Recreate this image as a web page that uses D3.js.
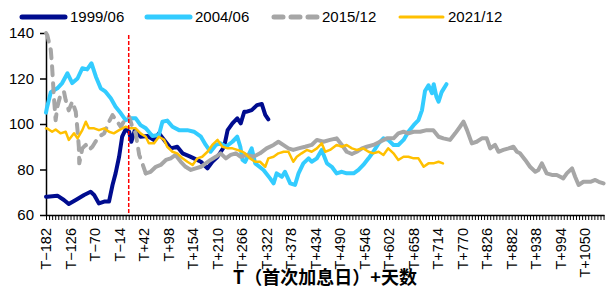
<!DOCTYPE html>
<html lang="zh">
<head>
<meta charset="UTF-8">
<title>加息后走势</title>
<style>
  body { margin: 0; padding: 0; background: #fff; }
  svg { display: block; font-family: "Liberation Sans", Arial, sans-serif; }
</style>
</head>
<body>
<svg id="chart" width="606" height="288"></svg>
<script src="https://d3js.org/d3.v7.min.js"></script>
<script>
// [day relative to T, value]
var s1999 = [[-182,68],[-179,68],[-156,68.5],[-141,66.6],[-130,64.8],[-114,66.6],[-95,68.8],[-80,70.2],[-72,68.8],[-61,65.1],[-49,65.9],[-38,65.9],[-30,73.2],[-23,78.3],[-15,85.6],[-8,94.4],[0,97.6],[8,96.6],[13,92.2],[21,97.3],[34,94.4],[50,94.7],[65,93],[76,95.9],[88,93],[103,89.3],[118,90],[130,87.1],[145,85.9],[156,84.9],[172,83.4],[187,80.5],[198,83.4],[210,85.6],[225,90],[233,97.3],[244,100.3],[255,102.5],[263,100.3],[271,105.4],[277,105.4],[288,106.1],[300,108.3],[311,108.8],[319,104],[326,102]];

var s2004 = [[-182,105],[-180,107],[-171,114],[-156,115.7],[-145,118],[-133,122.3],[-122,118],[-110,120],[-99,124.5],[-88,124],[-78,126.7],[-68,120.8],[-57,115.7],[-46,114.2],[-34,111.3],[-23,107.6],[-11,104.7],[0,101.7],[12,102.5],[23,102.5],[34,99.5],[46,98.1],[61,94.7],[76,95.2],[84,101],[95,101.5],[107,98.8],[122,97.3],[141,97.3],[156,96.6],[172,94.4],[183,90.8],[194,87.8],[206,90.8],[217,91.5],[229,90],[244,92.2],[255,94.4],[262,90],[267,84.2],[273,83.4],[288,89.3],[296,82.7],[315,79.8],[330,76.1],[338,73.9],[345,78.3],[357,76.8],[364,79],[376,73.9],[387,73.2],[395,78.3],[406,82.7],[418,84.9],[425,83.4],[437,84.9],[448,88.6],[460,82.7],[471,81.2],[482,78.3],[494,79],[505,78.3],[521,78.3],[532,79.8],[543,82],[555,84.9],[566,87.8],[578,91.5],[589,93.7],[600,93],[612,90.8],[623,90.8],[635,93],[646,96.6],[658,99.5],[669,101.7],[677,106],[684,114.5],[692,117],[700,113.5],[704,117.5],[710,112],[715,109.8],[722,114],[733,117.5]];

var s2015 = [[-182,140],[-179,139],[-171,132.5],[-168,125],[-164,112],[-160,101.7],[-156,107.6],[-149,112.7],[-141,114.2],[-137,110.5],[-130,106],[-122,109.8],[-114,105.4],[-110,97.3],[-107,90],[-106,82.7],[-99,89.3],[-91,90.8],[-84,88.6],[-76,90],[-69,92.2],[-61,94.4],[-49,95.9],[-38,101],[-30,103.9],[-19,101],[-11,98.8],[0,102.5],[8,103.2],[15,98.8],[23,95.9],[31,86.4],[38,82.7],[46,78.3],[57,79],[69,81.2],[80,82],[92,84.2],[103,84.9],[114,86.4],[126,83.4],[137,81.2],[149,79.8],[160,80.5],[172,81.2],[183,82.7],[194,84.2],[206,85.6],[217,87.1],[229,84.9],[240,86.4],[252,87.1],[263,85.6],[277,86.4],[292,85.6],[307,87.1],[322,89.3],[338,90.8],[349,92.2],[360,90.8],[372,89.3],[383,88.6],[395,89.3],[410,90],[425,90.8],[437,93],[452,92.2],[467,93],[482,93.7],[494,90.8],[505,87.8],[517,86.8],[528,87.8],[540,89.3],[551,90],[566,90.8],[581,92.2],[597,93.7],[612,93.7],[623,95.9],[635,96.6],[646,95.9],[658,96.6],[673,96.6],[688,97.3],[703,97.3],[715,94.4],[726,93.7],[741,93],[753,95.9],[764,98.8],[772,101],[780,97.3],[791,91.5],[802,92.2],[814,93.7],[825,93.7],[833,89.3],[844,90.8],[852,87.8],[863,88.6],[875,89.3],[886,90],[894,87.8],[901,87.1],[913,84.2],[924,81.2],[936,79],[943,79.8],[951,82.7],[962,78.3],[974,77.6],[985,77.6],[993,76.8],[1000,76.1],[1008,78.3],[1020,80.5],[1027,76.8],[1035,73.2],[1046,74.6],[1062,74.6],[1073,75.4],[1081,74.6],[1092,73.9]];

var s2021 = [[-182,98],[-180,98.1],[-168,96.6],[-160,97.6],[-149,95.9],[-137,96.6],[-130,93],[-118,95.9],[-110,93.7],[-99,97.3],[-91,101],[-84,98.1],[-72,98.1],[-61,97.3],[-49,98.1],[-38,96.6],[-27,95.9],[-15,97.3],[0,98.8],[12,98.1],[23,98.1],[34,95.9],[46,94.4],[53,91.5],[65,91.5],[76,94.4],[88,93],[95,90],[107,87.8],[118,87.1],[130,84.9],[141,83.4],[153,82],[164,84.9],[175,85.6],[187,87.8],[198,90.8],[210,93],[221,90],[233,89.3],[244,89.3],[255,88.6],[267,87.8],[273,87.1],[284,84.9],[296,83.4],[307,83.4],[319,81.2],[326,84.9],[338,85.6],[349,87.1],[361,87.8],[372,87.8],[383,83.4],[391,85.6],[402,87.1],[414,88.6],[425,87.8],[437,89.3],[448,91.5],[456,87.8],[467,88.6],[482,90.8],[494,90],[505,90.8],[517,89.3],[528,88.6],[543,89.3],[555,87.8],[566,87.1],[578,87.8],[589,86.4],[600,89.3],[612,87.1],[623,84.2],[635,85.6],[646,85.6],[658,84.9],[669,84.9],[681,81.2],[692,82.7],[703,82.7],[715,83.4],[725,82.7]];

var seriesNames = ["1999/06", "2004/06", "2015/12", "2021/12"];
var yTicks = [60, 80, 100, 120, 140];
var xLabelDays = d3.range(-182, 1051, 56);
var xMinorDays = d3.range(-182, 1094, 7);
var eventDay = 7;      // red marker (first hike)
var dashEndDay = 46;   // 2015/12 drawn dashed up to here

var margin = { top: 33, right: 2, bottom: 73, left: 46 };
var width = 606 - margin.left - margin.right;
var height = 288 - margin.top - margin.bottom;

var svg = d3.select("#chart");
var g = svg.append("g")
    .attr("transform", "translate(" + margin.left + "," + margin.top + ")");

var x = d3.scaleLinear().domain([-182, 1093]).range([0, width]);
var y = d3.scaleLinear().domain([60, 140]).range([height, 0]);

var line = d3.line()
    .x(function (d) { return x(d[0]); })
    .y(function (d) { return y(d[1]); });

// axes
var yAxis = g.append("g")
    .call(d3.axisLeft(y).tickValues(yTicks).tickSize(6).tickSizeOuter(0));
yAxis.select(".domain").attr("stroke", "#000").attr("stroke-width", 1.5);
yAxis.selectAll(".tick line").attr("stroke", "#000").attr("stroke-width", 1.5);
yAxis.selectAll(".tick text")
    .attr("x", -12)
    .attr("font-size", 15)
    .attr("font-family", "Liberation Sans, Arial, sans-serif")
    .attr("fill", "#000");

var xAxis = g.append("g")
    .attr("transform", "translate(0," + height + ")")
    .call(d3.axisBottom(x).tickValues(xMinorDays).tickSize(5).tickSizeOuter(0).tickFormat(""));
xAxis.select(".domain").attr("stroke", "#000").attr("stroke-width", 1.5);
xAxis.selectAll(".tick line").attr("stroke", "#000").attr("stroke-width", 1);

g.append("g").selectAll("text")
    .data(xLabelDays)
    .enter().append("text")
    .attr("transform", function (d) { return "translate(" + x(d) + "," + (height + 13) + ") rotate(-90)"; })
    .attr("text-anchor", "end")
    .attr("dy", "0.35em")
    .attr("font-size", 14.5)
    .attr("fill", "#000")
    .text(function (d) { return d < 0 ? "T\u2212" + (-d) : "T+" + d; });

// series
var colors = ["#000C8F", "#33CCFF", "#A6A6A6", "#FFC000"];

g.append("path").datum(s1999).attr("d", line)
    .attr("fill", "none").attr("stroke", colors[0]).attr("stroke-width", 4)
    .attr("stroke-linejoin", "round").attr("stroke-linecap", "round");

g.append("path").datum(s2004).attr("d", line)
    .attr("fill", "none").attr("stroke", colors[1]).attr("stroke-width", 4)
    .attr("stroke-linejoin", "round").attr("stroke-linecap", "round");

g.append("path").datum(s2015.filter(function (d) { return d[0] <= dashEndDay; })).attr("d", line)
    .attr("fill", "none").attr("stroke", colors[2]).attr("stroke-width", 4)
    .attr("stroke-dasharray", "9,8")
    .attr("stroke-linejoin", "round").attr("stroke-linecap", "round");
g.append("path").datum(s2015.filter(function (d) { return d[0] >= dashEndDay; })).attr("d", line)
    .attr("fill", "none").attr("stroke", colors[2]).attr("stroke-width", 4)
    .attr("stroke-linejoin", "round").attr("stroke-linecap", "round");

g.append("path").datum(s2021).attr("d", line)
    .attr("fill", "none").attr("stroke", colors[3]).attr("stroke-width", 2.5)
    .attr("stroke-linejoin", "round").attr("stroke-linecap", "round");

// red marker line
g.append("line")
    .attr("x1", x(eventDay)).attr("x2", x(eventDay))
    .attr("y1", 2).attr("y2", height)
    .attr("stroke", "#FF0000").attr("stroke-width", 1.5)
    .attr("stroke-dasharray", "4,2");

// x title
svg.append("text")
    .attr("x", 325).attr("y", 284)
    .attr("text-anchor", "middle")
    .attr("font-family", "Noto Sans CJK SC, sans-serif")
    .attr("font-weight", "bold")
    .attr("font-size", 18)
    .attr("fill", "#000")
    .text("T（首次加息日）+天数");

// legend
var legendX = [20, 145, 272, 398];
var legend = svg.append("g");
seriesNames.forEach(function (name, i) {
    var lx = legendX[i];
    var ln = legend.append("line")
        .attr("x1", lx + 2).attr("x2", lx + 45)
        .attr("y1", 17).attr("y2", 17)
        .attr("stroke", colors[i]).attr("stroke-width", i === 3 ? 3 : 5)
        .attr("stroke-linecap", "round");
    if (i === 2) ln.attr("stroke-dasharray", "9,8");
    legend.append("text")
        .attr("x", lx + 50).attr("y", 17)
        .attr("dy", "0.35em")
        .attr("font-size", 15)
        .attr("fill", "#000")
        .text(name);
});
</script>
</body>
</html>
